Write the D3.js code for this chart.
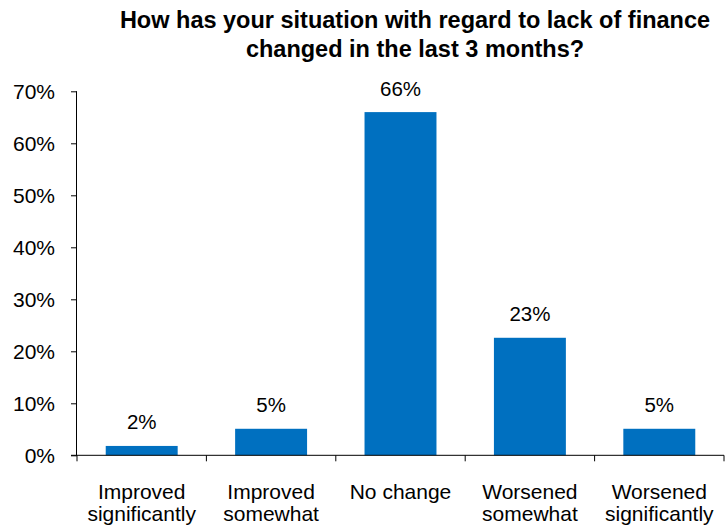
<!DOCTYPE html>
<html><head><meta charset="utf-8">
<script src="https://cdn.jsdelivr.net/npm/d3@7"></script>
<style>body{margin:0;background:#fff}text{font-family:"Liberation Sans",Arial,sans-serif;fill:#000}</style>
</head><body><svg id="c" width="728" height="527"></svg>
<script>
const categories = [["Improved","significantly"],["Improved","somewhat"],["No change"],["Worsened","somewhat"],["Worsened","significantly"]];
const values = [1.8, 5.1, 66, 22.6, 5.1];
const valueLabels = ["2%","5%","66%","23%","5%"];
const yTicks = [0,10,20,30,40,50,60,70];
const titleLines = ["How has your situation with regard to lack of finance","changed in the last 3 months?"];

const svg = d3.select("#c");
const x0 = 77, x1 = 724, yTop = 91.3, yBot = 455.3;
const x = d3.scaleBand().domain(d3.range(categories.length)).range([x0, x1]).padding(0);
const y = d3.scaleLinear().domain([0,70]).range([yBot, yTop]);
const barW = x.bandwidth()*0.556;

svg.selectAll("rect.bar").data(values).join("rect")
  .attr("x",(d,i)=>x(i)+x.bandwidth()/2-barW/2)
  .attr("y",d=>y(d)).attr("width",barW).attr("height",d=>y(0)-y(d))
  .attr("fill","#0070C0");

svg.selectAll("text.vl").data(values).join("text")
  .attr("x",(d,i)=>x(i)+x.bandwidth()/2).attr("y",d=>y(d)-16.5)
  .attr("text-anchor","middle").attr("font-size",20.5).text((d,i)=>valueLabels[i]);

// y axis
const ya = svg.append("g").attr("transform",`translate(${x0},0)`)
  .call(d3.axisLeft(y).tickValues(yTicks).tickSize(6).tickPadding(16).tickFormat(d=>d+"%"));
ya.select(".domain").attr("stroke","#000").attr("d",`M-0.5,${yTop}V${yBot}`);
ya.selectAll(".tick line").attr("stroke","#000");
ya.selectAll(".tick text").attr("font-size",21).attr("font-family","Liberation Sans, Arial, sans-serif").attr("fill","#000").attr("dy","0.35em");

// x axis
svg.append("line").attr("x1",x0-6).attr("x2",x1).attr("y1",yBot).attr("y2",yBot).attr("stroke","#000");
const bounds = d3.range(categories.length+1).map(i=> i<categories.length ? x(i) : x1);
svg.selectAll("line.xt").data(bounds).join("line")
  .attr("x1",d=>d).attr("x2",d=>d).attr("y1",yBot).attr("y2",yBot+6).attr("stroke","#000");

const cl = svg.selectAll("text.cl").data(categories).join("text")
  .attr("text-anchor","middle").attr("font-size",21);
cl.each(function(lines,i){
  const t = d3.select(this);
  lines.forEach((s,j)=>t.append("tspan").attr("x",x(i)+x.bandwidth()/2).attr("y",499+j*22).text(s));
});

// title
const tt = svg.append("text").attr("text-anchor","middle").attr("font-size",23.5).attr("font-weight","bold");
titleLines.forEach((s,j)=>tt.append("tspan").attr("x",415).attr("y",28+j*29).text(s));
</script></body></html>
